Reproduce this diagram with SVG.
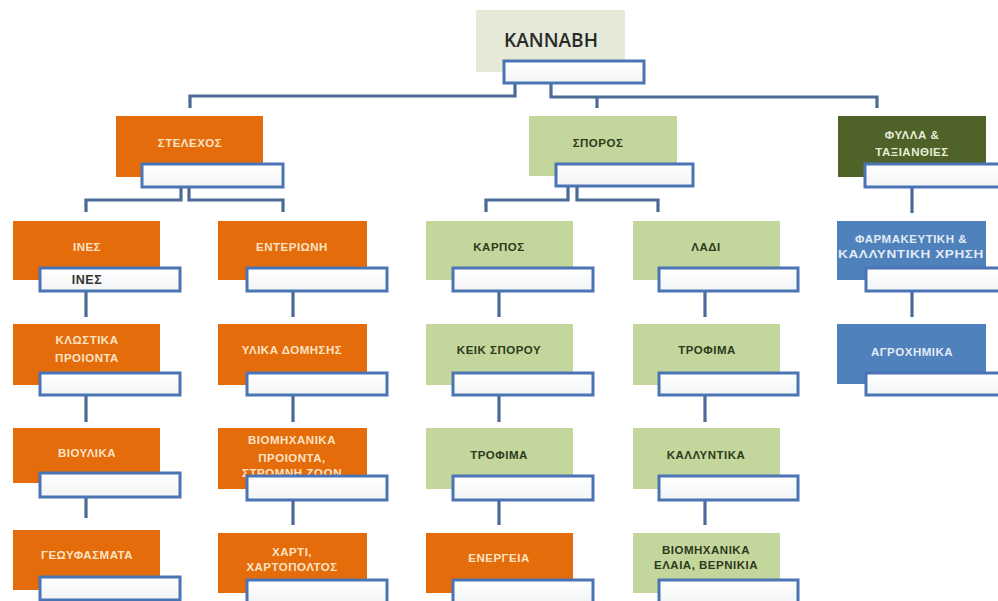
<svg xmlns="http://www.w3.org/2000/svg" width="998" height="601" viewBox="0 0 998 601">
<defs>
<linearGradient id="sg" x1="0" y1="0" x2="0" y2="1">
<stop offset="0" stop-color="#ffffff"/>
<stop offset="1" stop-color="#f3f4f5"/>
</linearGradient>
<style>
.or{fill:#e46c0a}
.lg{fill:#c3d69b}
.dg{fill:#4f6228}
.bl{fill:#4f81bd}
.rt{fill:#e5e9d7}
.sub{fill:url(#sg);stroke:#4a74b4;stroke-width:3}
.con{fill:none;stroke:#4b6b95;stroke-width:3.2;stroke-linejoin:miter}
text{font-family:"Liberation Sans",Arial,sans-serif;font-weight:bold;font-size:11.5px;text-anchor:middle;letter-spacing:0.5px}
.tl{fill:#fde3c6}
.td{fill:#2e3a1c}
.tw{fill:#e3ebf5}
.tg{fill:#e6edd6}
.troot{font-family:"Open Sans","Liberation Sans",sans-serif;font-size:19px;font-weight:600;fill:#2a2a2a;letter-spacing:0}
</style>
</defs>
<rect width="998" height="601" fill="#ffffff"/>
<g id="connectors">
<path class="con" d="M515 83 V96 H190 V108"/>
<path class="con" d="M551 83 V97 H877 V108"/>
<path class="con" d="M597 97 V108"/>
<path class="con" d="M181 187 V200 H86 V212"/>
<path class="con" d="M189 187 V200 H283 V212"/>
<path class="con" d="M568 186 V200 H486 V212"/>
<path class="con" d="M577 186 V200 H658 V212"/>
<path class="con" d="M912 187 V213"/>
<path class="con" d="M86 291 V317 M86 395 V422 M86 497 V518"/>
<path class="con" d="M293 291 V317 M293 395 V422 M293 500 V525"/>
<path class="con" d="M499 291 V317 M499 395 V422 M499 500 V525"/>
<path class="con" d="M705 291 V317 M705 395 V422 M705 500 V525"/>
<path class="con" d="M912 291 V317"/>
</g>
<g id="n-kannabh">
<rect class="rt" x="476" y="10" width="149" height="62"/>
<text class="troot" x="551" y="47">KANNABH</text>
<rect class="sub" x="504" y="61" width="140" height="22"/>
</g>
<g id="n-stelexos">
<rect class="or" x="116" y="116" width="147" height="61"/>
<text class="tl" x="190" y="147">ΣΤΕΛΕΧΟΣ</text>
<rect class="sub" x="142" y="164" width="141" height="23"/>
</g>
<g id="n-sporos">
<rect class="lg" x="529" y="116" width="148" height="60"/>
<text class="td" x="598" y="147">ΣΠΟΡΟΣ</text>
<rect class="sub" x="556" y="164" width="137" height="22"/>
</g>
<g id="n-fylla">
<rect class="dg" x="838" y="116" width="148" height="61"/>
<text class="tg" x="912" y="139">ΦΥΛΛΑ &amp;</text>
<text class="tg" x="912" y="156">ΤΑΞΙΑΝΘΙΕΣ</text>
<rect class="sub" x="865" y="164" width="142" height="23"/>
</g>
<g id="n-ines">
<rect class="or" x="13" y="221" width="147" height="59"/>
<text class="tl" x="87" y="251">ΙΝΕΣ</text>
<rect class="sub" x="40" y="268" width="140" height="23"/>
<text x="87" y="284" style="fill:#333;font-size:12.5px">ΙΝΕΣ</text>
</g>
<g id="n-enterioni">
<rect class="or" x="218" y="221" width="149" height="59"/>
<text class="tl" x="292" y="251">ΕΝΤΕΡΙΩΝΗ</text>
<rect class="sub" x="247" y="268" width="140" height="23"/>
</g>
<g id="n-klostika">
<rect class="or" x="13" y="324" width="147" height="61"/>
<text class="tl" x="87" y="344">ΚΛΩΣΤΙΚΑ</text>
<text class="tl" x="87" y="362">ΠΡΟΙΟΝΤΑ</text>
<rect class="sub" x="40" y="373" width="140" height="22"/>
</g>
<g id="n-ylika">
<rect class="or" x="218" y="324" width="149" height="61"/>
<text class="tl" x="292" y="354">ΥΛΙΚΑ ΔΟΜΗΣΗΣ</text>
<rect class="sub" x="247" y="373" width="140" height="22"/>
</g>
<g id="n-vioylika">
<rect class="or" x="13" y="428" width="147" height="55"/>
<text class="tl" x="87" y="457">ΒΙΟΥΛΙΚΑ</text>
<rect class="sub" x="40" y="473" width="140" height="24"/>
</g>
<g id="n-viomix-proionta">
<rect class="or" x="218" y="428" width="149" height="61"/>
<text class="tl" x="292" y="444">ΒΙΟΜΗΧΑΝΙΚΑ</text>
<text class="tl" x="292" y="462">ΠΡΟΙΟΝΤΑ,</text>
<text class="tl" x="292" y="477">ΣΤΡΩΜΝΗ ΖΩΩΝ</text>
<rect class="sub" x="247" y="476" width="140" height="24"/>
</g>
<g id="n-geoyfasmata">
<rect class="or" x="13" y="530" width="147" height="60"/>
<text class="tl" x="87" y="559">ΓΕΩΥΦΑΣΜΑΤΑ</text>
<rect class="sub" x="40" y="577" width="140" height="23"/>
</g>
<g id="n-xarti">
<rect class="or" x="218" y="533" width="149" height="60"/>
<text class="tl" x="292" y="556">ΧΑΡΤΙ,</text>
<text class="tl" x="292" y="571">ΧΑΡΤΟΠΟΛΤΟΣ</text>
<rect class="sub" x="247" y="580" width="140" height="23"/>
</g>
<g id="n-karpos">
<rect class="lg" x="426" y="221" width="147" height="59"/>
<text class="td" x="499" y="251">ΚΑΡΠΟΣ</text>
<rect class="sub" x="453" y="268" width="140" height="23"/>
</g>
<g id="n-ladi">
<rect class="lg" x="633" y="221" width="147" height="59"/>
<text class="td" x="706" y="251">ΛΑΔΙ</text>
<rect class="sub" x="659" y="268" width="139" height="23"/>
</g>
<g id="n-keik">
<rect class="lg" x="426" y="324" width="147" height="61"/>
<text class="td" x="499" y="354">ΚΕΙΚ ΣΠΟΡΟΥ</text>
<rect class="sub" x="453" y="373" width="140" height="22"/>
</g>
<g id="n-trofima1">
<rect class="lg" x="633" y="324" width="147" height="61"/>
<text class="td" x="707" y="354">ΤΡΟΦΙΜΑ</text>
<rect class="sub" x="659" y="373" width="139" height="22"/>
</g>
<g id="n-trofima2">
<rect class="lg" x="426" y="428" width="147" height="61"/>
<text class="td" x="499" y="459">ΤΡΟΦΙΜΑ</text>
<rect class="sub" x="453" y="476" width="140" height="24"/>
</g>
<g id="n-kallyntika">
<rect class="lg" x="633" y="428" width="147" height="61"/>
<text class="td" x="706" y="459">ΚΑΛΛΥΝΤΙΚΑ</text>
<rect class="sub" x="659" y="476" width="139" height="24"/>
</g>
<g id="n-energeia">
<rect class="or" x="426" y="533" width="147" height="60"/>
<text class="tl" x="499" y="562">ΕΝΕΡΓΕΙΑ</text>
<rect class="sub" x="453" y="580" width="140" height="23"/>
</g>
<g id="n-viomix-elaia">
<rect class="lg" x="633" y="533" width="147" height="60"/>
<text class="td" x="706" y="554">ΒΙΟΜΗΧΑΝΙΚΑ</text>
<text class="td" x="706" y="569">ΕΛΑΙΑ, ΒΕΡΝΙΚΙΑ</text>
<rect class="sub" x="659" y="580" width="139" height="23"/>
</g>
<g id="n-farmakeytiki">
<rect class="bl" x="837" y="221" width="149" height="59"/>
<text class="tw" x="911" y="243">ΦΑΡΜΑΚΕΥΤΙΚΗ &amp;</text>
<text class="tw" x="911" y="258" textLength="146" lengthAdjust="spacingAndGlyphs">ΚΑΛΛΥΝΤΙΚΗ ΧΡΗΣΗ</text>
<rect class="sub" x="866" y="268" width="142" height="23"/>
</g>
<g id="n-agroximika">
<rect class="bl" x="837" y="324" width="149" height="60"/>
<text class="tw" x="912" y="356">ΑΓΡΟΧΗΜΙΚΑ</text>
<rect class="sub" x="866" y="373" width="142" height="22"/>
</g>
</svg>
